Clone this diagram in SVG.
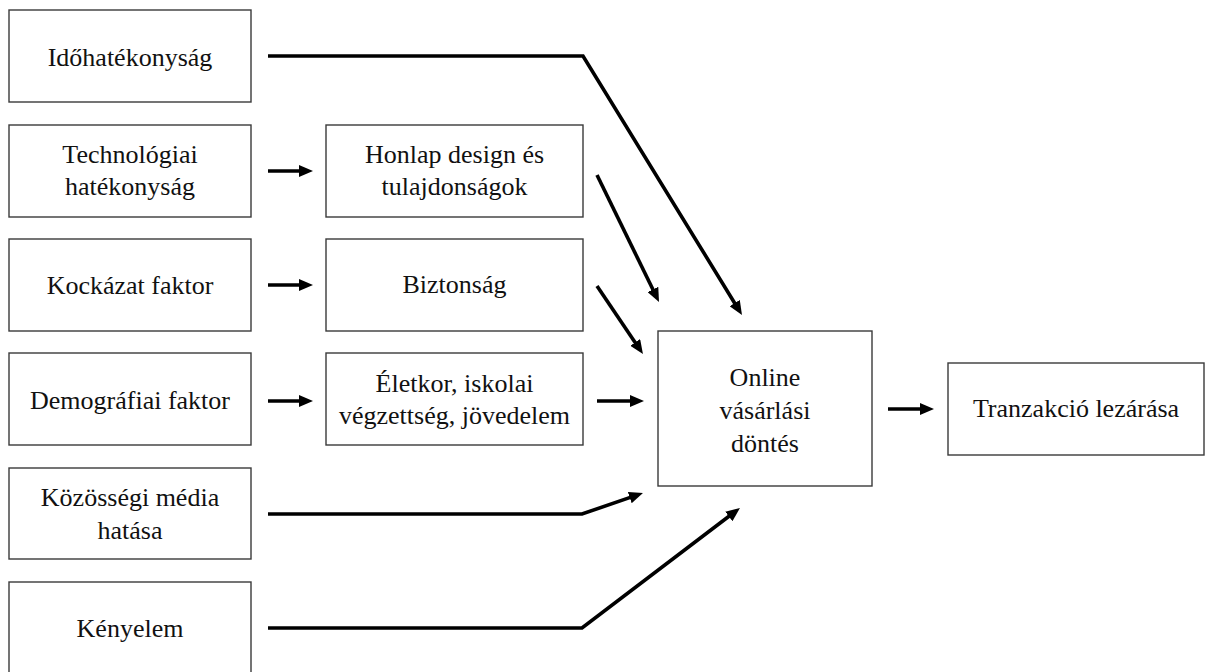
<svg xmlns="http://www.w3.org/2000/svg" width="1205" height="672" viewBox="0 0 1205 672">
  <style>
    .box { fill: #ffffff; stroke: #3a3a3a; stroke-width: 1.4; }
    .lbl { font-family: "Liberation Serif", "Times New Roman", serif; font-size: 26px; fill: #111111; text-anchor: middle; }
    .arr { fill: none; stroke: #000000; stroke-width: 3.6; stroke-linejoin: miter; }
  </style>
  <defs>
    <marker id="head" viewBox="0 0 14 12" refX="6" refY="6" markerWidth="14" markerHeight="12" markerUnits="userSpaceOnUse" orient="auto">
      <path d="M0,0 L14,6 L0,12 Z" fill="#000000"/>
    </marker>
  </defs>
  <rect width="1205" height="672" fill="#ffffff"/>

  <!-- left column: factors -->
  <g id="idohatekonysag">
    <rect class="box" x="9" y="10" width="242" height="92"/>
    <text class="lbl" x="130" y="66">Időhatékonyság</text>
  </g>
  <g id="technologiai">
    <rect class="box" x="9" y="125" width="242" height="92"/>
    <text class="lbl" x="130" y="163">Technológiai</text>
    <text class="lbl" x="130" y="195">hatékonyság</text>
  </g>
  <g id="kockazat">
    <rect class="box" x="9" y="239" width="242" height="92"/>
    <text class="lbl" x="130" y="294">Kockázat faktor</text>
  </g>
  <g id="demografiai">
    <rect class="box" x="9" y="353" width="242" height="92"/>
    <text class="lbl" x="130" y="409">Demográfiai faktor</text>
  </g>
  <g id="kozossegi">
    <rect class="box" x="9" y="468" width="242" height="91"/>
    <text class="lbl" x="130" y="506">Közösségi média</text>
    <text class="lbl" x="130" y="539">hatása</text>
  </g>
  <g id="kenyelem">
    <rect class="box" x="9" y="582" width="242" height="94"/>
    <text class="lbl" x="130" y="637">Kényelem</text>
  </g>

  <!-- middle column -->
  <g id="honlap">
    <rect class="box" x="326" y="125" width="257" height="92"/>
    <text class="lbl" x="454.5" y="163">Honlap design és</text>
    <text class="lbl" x="454.5" y="195">tulajdonságok</text>
  </g>
  <g id="biztonsag">
    <rect class="box" x="326" y="239" width="257" height="92"/>
    <text class="lbl" x="454.5" y="293">Biztonság</text>
  </g>
  <g id="eletkor">
    <rect class="box" x="326" y="353" width="257" height="92"/>
    <text class="lbl" x="454.5" y="392">Életkor, iskolai</text>
    <text class="lbl" x="454.5" y="424">végzettség, jövedelem</text>
  </g>

  <!-- decision and outcome -->
  <g id="online">
    <rect class="box" x="658" y="331" width="214" height="155"/>
    <text class="lbl" x="765" y="386">Online</text>
    <text class="lbl" x="765" y="419">vásárlási</text>
    <text class="lbl" x="765" y="452">döntés</text>
  </g>
  <g id="tranzakcio">
    <rect class="box" x="948" y="363" width="256" height="92"/>
    <text class="lbl" x="1076" y="417">Tranzakció lezárása</text>
  </g>

  <!-- connectors -->
  <g id="connectors">
    <path class="arr" marker-end="url(#head)" d="M268,56 L583,56 L737.8,308.2"/>
    <path class="arr" marker-end="url(#head)" d="M268,171 L305,171"/>
    <path class="arr" marker-end="url(#head)" d="M268,285 L305,285"/>
    <path class="arr" marker-end="url(#head)" d="M268,401 L305,401"/>
    <path class="arr" marker-end="url(#head)" d="M597,175 L655.5,294.8"/>
    <path class="arr" marker-end="url(#head)" d="M597,286 L638.5,347.4"/>
    <path class="arr" marker-end="url(#head)" d="M597,401 L636,401"/>
    <path class="arr" marker-end="url(#head)" d="M268,514 L582,514 L635.4,495.6"/>
    <path class="arr" marker-end="url(#head)" d="M268,628 L582,628 L733.6,512.8"/>
    <path class="arr" marker-end="url(#head)" d="M888,409 L926,409"/>
  </g>
</svg>
